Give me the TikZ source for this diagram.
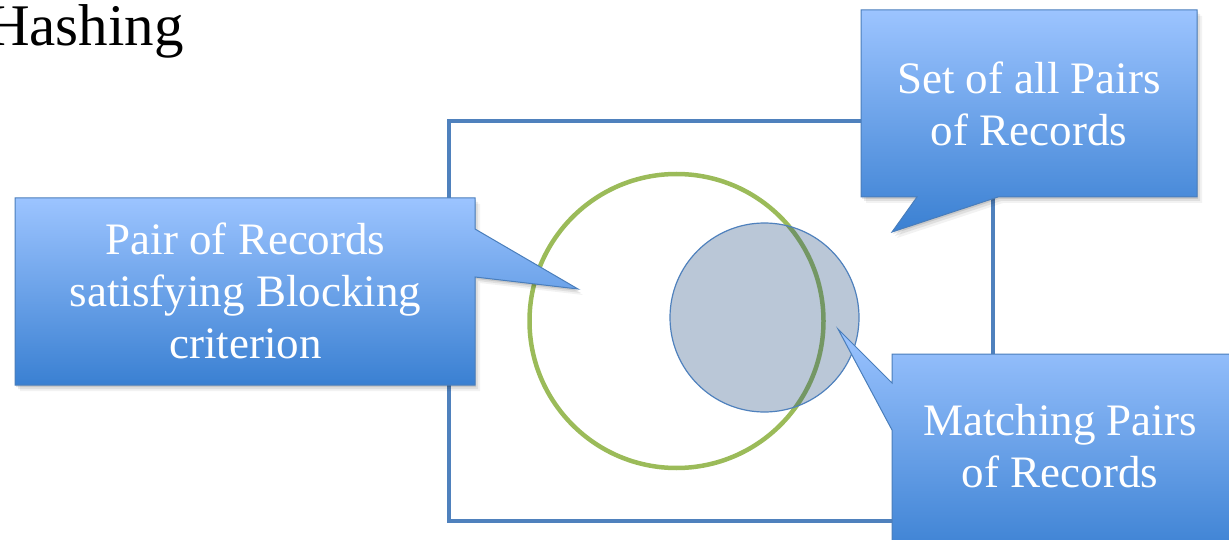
\documentclass[tikz,border=0pt]{standalone}
\usepackage{fontspec}
\setmainfont{Liberation Serif}
\definecolor{frameblue}{RGB}{79,129,189}
\definecolor{setgreen}{RGB}{155,187,89}
\definecolor{matchfill}{RGB}{31,73,125}
\definecolor{callouttop}{RGB}{156,196,255}
\definecolor{calloutbot}{RGB}{58,128,210}
\definecolor{calloutline}{RGB}{74,126,187}
\tikzset{
  calloutbox/.style={draw=calloutline, line width=1pt, line join=miter,
    top color=callouttop, bottom color=calloutbot},
  calloutshade/.style={fill=black, draw=none, fill opacity=#1},
  calloutlabel/.style={text=white, align=center, inner sep=0pt,
    font=\fontsize{45}{52}\selectfont},
  % outlines of the three speech-bubble callouts
  allpairs/.style={insert path={(861,10) -- (1197,10) -- (1197,197) -- (998,197)
    -- (892,232) -- (917,197) -- (861,197) -- cycle}},
  blocking/.style={insert path={(15,198) -- (475,198) -- (475,229) -- (578,289)
    -- (475,277) -- (475,385) -- (15,385) -- cycle}},
  matching/.style={insert path={(892,354) -- (1245,354) -- (1245,560) -- (892,560)
    -- (892,430) -- (838,329) -- (892,383) -- cycle}},
}
\begin{document}
\begin{tikzpicture}[x=1pt,y=-1pt]
\useasboundingbox (0,0) rectangle (1229,540);

% title, running off the left edge of the slide
\node[anchor=base east, inner sep=0pt, font=\fontsize{59}{64}\selectfont]
  (title) at (184,46) {Hashing};

% set of all pairs
\draw[frameblue, line width=4.5pt] (449,121) rectangle (993,521);

% pairs satisfying the blocking criterion
\node[circle, draw=setgreen, line width=4.5pt, minimum size=294pt, inner sep=0pt]
  (block) at (676.5,321) {};

% matching pairs
\node[circle, draw=frameblue, line width=1.2pt, fill=matchfill, fill opacity=0.31,
  minimum size=189pt, inner sep=0pt] (match) at (764.5,317.5) {};

% callout shadows
\foreach \s/\o in {1/0.10, 3/0.08, 5/0.05} {
  \fill[calloutshade=\o, shift={(\s,\s+1)}, allpairs];
  \fill[calloutshade=\o, shift={(\s,\s+1)}, blocking];
  \fill[calloutshade=\o, shift={(\s,\s+1)}, matching];
}

% callouts
\path[calloutbox, allpairs];
\path[calloutbox, blocking];
\path[calloutbox, matching];

\node[calloutlabel] (setlabel) at (1029,103.5) {Set of all Pairs\\of Records};
\node[calloutlabel] (blocklabel) at (245.5,290.5) {Pair of Records\\satisfying Blocking\\criterion};
\node[calloutlabel] (matchlabel) at (1060,446.5) {Matching Pairs\\of Records};
\end{tikzpicture}
\end{document}
